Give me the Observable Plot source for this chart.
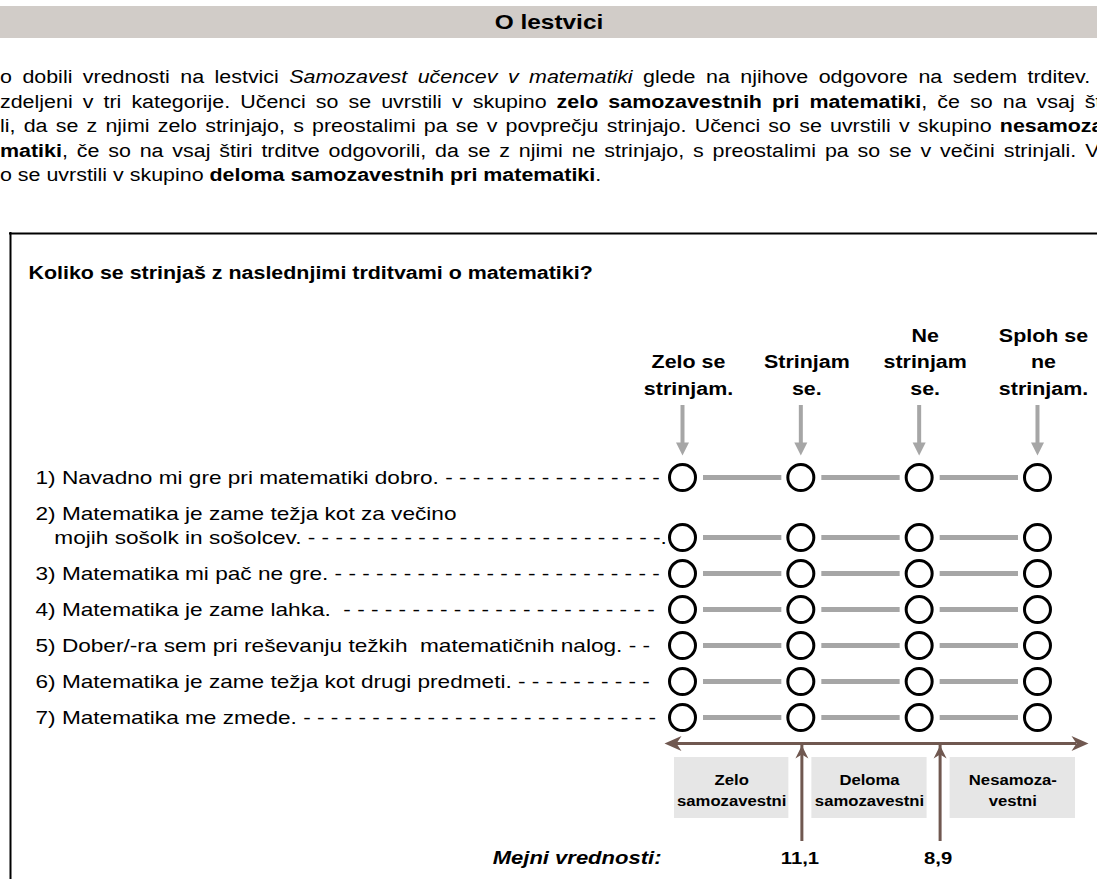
<!DOCTYPE html>
<html>
<head>
<meta charset="utf-8">
<script src="https://cdn.jsdelivr.net/npm/d3@7"></script>
<script src="https://cdn.jsdelivr.net/npm/@observablehq/plot@0.6"></script>
<style>
html, body { margin: 0; padding: 0; background: #fff; overflow: hidden; width: 1097px; height: 879px; }
body { position: relative; font-family: "Liberation Sans", Arial, sans-serif; color: #000; }
#band { position: absolute; left: 0; top: 6px; width: 1097px; height: 32px; background: #d1ccc8; }
#band span { position: absolute; left: 50%; top: 50%; transform: translate(-50%, -50%) scaleX(1.19); font-weight: bold; font-size: 20.5px; white-space: nowrap; }
#para { position: absolute; left: 0; top: 0; width: 1097px; height: 200px; overflow: hidden; }
.line { position: absolute; left: 0; width: max-content; white-space: nowrap; font-size: 18px; line-height: 24px; height: 24px; transform-origin: 0 50%; transform: scaleX(1.19); }
#chart { position: absolute; left: 0; top: 200px; width: 1097px; height: 679px; overflow: hidden; }
</style>
</head>
<body>
<div id="band"><span>O lestvici</span></div>
<div id="para">
  <div class="line" data-end="1090" style="top:65px">o dobili vrednosti na lestvici <i>Samozavest učencev v matematiki</i> glede na njihove odgovore na sedem trditev.</div>
  <div class="line" data-end="1101" style="top:89.5px">zdeljeni v tri kategorije. Učenci so se uvrstili v skupino <b>zelo samozavestnih pri matematiki</b>, če so na vsaj št</div>
  <div class="line" data-end="1103" style="top:114px">li, da se z njimi zelo strinjajo, s preostalimi pa se v povprečju strinjajo. Učenci so se uvrstili v skupino <b>nesamoza</b></div>
  <div class="line" data-end="1099" style="top:138.5px"><b>matiki</b>, če so na vsaj štiri trditve odgovorili, da se z njimi ne strinjajo, s preostalimi pa so se v večini strinjali. V</div>
  <div class="line" style="top:163px">o se uvrstili v skupino <b>deloma samozavestnih pri matematiki</b>.</div>
</div>
<div id="chart"></div>
<script>
// ---------- data ----------
const question = "Koliko se strinjaš z naslednjimi trditvami o matematiki?";
const responses = ["Zelo se\nstrinjam.", "Strinjam\nse.", "Ne\nstrinjam\nse.", "Sploh se\nne\nstrinjam."];
const statements = [
  "1) Navadno mi gre pri matematiki dobro. - - - - - - - - - - - - - - - -",
  "2) Matematika je zame težja kot za večino\n\u00a0\u00a0\u00a0mojih sošolk in sošolcev. - - - - - - - - - - - - - - - - - - - - - - - - - -.",
  "3) Matematika mi pač ne gre. - - - - - - - - - - - - - - - - - - - - - - - -",
  "4) Matematika je zame lahka.\u00a0 - - - - - - - - - - - - - - - - - - - - - - -",
  "5) Dober/-ra sem pri reševanju težkih\u00a0 matematičnih nalog. - -",
  "6) Matematika je zame težja kot drugi predmeti. - - - - - - - - - -",
  "7) Matematika me zmede. - - - - - - - - - - - - - - - - - - - - - - - - - -"
];
const categories = ["Zelo\nsamozavestni", "Deloma\nsamozavestni", "Nesamoza-\nvestni"];
const cutValues = [11.1, 8.9];
const cutCaption = "Mejni vrednosti:";

// ---------- styles / layout ----------
const W = 1097, H = 679;
const SX = 1.19;                 // horizontal text stretch of the original
const GRAY = "#a6a6a6", BROWN = "#705850", BOX = "#e6e6e6";
const COL = 118.33, X0 = 682;    // px per answer column, px of first column
const ROWPX = 36, Y0 = 277;      // px per row unit, px of first statement
const ux = px => (px - X0) / COL;
const uy = py => (py - Y0) / ROWPX;
const EXTRA = 0.67;              // extra row units per additional label line

// row positions: one unit per statement plus extra for additional label lines
let acc = 0;
const rowY = statements.map((s, i) => { acc += (s.split("\n").length - 1) * EXTRA; return i + acc; });

// score continuum below the answer columns
const scoreToCol = d3.scaleLinear().domain([13.0, 7.35]).range([0, responses.length - 1]);
const LEFT = ux(664), RIGHT = ux(1088);
const bounds = [LEFT, ...cutValues.map(v => scoreToCol(v)), RIGHT];
const segs = categories.map((c, k) => ({label: c, x1: bounds[k], x2: bounds[k + 1]}));
const cells = statements.flatMap((s, i) => responses.map((r, j) => ({i, j})));
const links = statements.flatMap((s, i) => d3.range(responses.length - 1).map(j => ({i, j})));
const fmt = v => String(v).replace(".", ",");

// symbols (tip at the dot position)
const unit = size => Math.sqrt(size / Math.PI) / 10;
const triDown = {draw(c, size) { const s = unit(size); c.moveTo(-6.5*s, -13*s); c.lineTo(6.5*s, -13*s); c.lineTo(0, 0); c.closePath(); }};
const headLeft = {draw(c, size) { const s = unit(size); c.moveTo(0, 0); c.lineTo(17*s, -7.5*s); c.lineTo(12*s, 0); c.lineTo(17*s, 7.5*s); c.closePath(); }};
const headRight = {draw(c, size) { const s = unit(size); c.moveTo(0, 0); c.lineTo(-17*s, -7.5*s); c.lineTo(-12*s, 0); c.lineTo(-17*s, 7.5*s); c.closePath(); }};
const headUp = {draw(c, size) { const s = unit(size); c.moveTo(0, 0); c.lineTo(-6.5*s, 13*s); c.lineTo(0, 9*s); c.lineTo(6.5*s, 13*s); c.closePath(); }};

const yScaleLine = uy(543), yCutBottom = uy(633), yCutTip = uy(545);

const plot = Plot.plot({
  width: W, height: H,
  marginTop: 0, marginRight: 0, marginBottom: 0, marginLeft: 0,
  x: {domain: [ux(0), ux(W)], range: [0, W], axis: null},
  y: {domain: [uy(0), uy(H)], range: [0, H], axis: null},
  style: {fontFamily: '"Liberation Sans", Arial, sans-serif', background: "white", color: "black", overflow: "hidden"},
  marks: [
    // frame
    Plot.ruleY([uy(33)], {y: d => d, x1: ux(9), x2: ux(W), stroke: "black", strokeWidth: 2}),
    Plot.ruleX([ux(10)], {x: d => d, y1: uy(32), y2: uy(H), stroke: "black", strokeWidth: 2}),
    // question
    Plot.text([question], {x: ux(28), y: uy(73), text: d => d, textAnchor: "start", fontSize: 18, fontWeight: "bold"}),
    // answer headers with arrows
    Plot.text(responses, {x: (d, i) => i, y: uy(194), dx: 6, text: d => d, lineAnchor: "bottom", lineHeight: 1.47, fontSize: 18, fontWeight: "bold"}),
    Plot.ruleX(responses, {x: (d, i) => i, y1: uy(205), y2: uy(245), stroke: GRAY, strokeWidth: 4}),
    Plot.dot(responses, {x: (d, i) => i, y: uy(255), symbol: triDown, r: 10, fill: GRAY, stroke: "none"}),
    // connectors and circles
    Plot.ruleY(links, {y: d => rowY[d.i], x1: d => d.j, x2: d => d.j + 1, insetLeft: 21, insetRight: 19, stroke: GRAY, strokeWidth: 5}),
    Plot.dot(cells, {x: d => d.j, y: d => rowY[d.i], r: 13, stroke: "black", strokeWidth: 3, fill: "white"}),
    // statements
    Plot.text(statements, {x: ux(35), y: (d, i) => rowY[i], text: d => d, textAnchor: "start", lineAnchor: "bottom", dy: 6, lineHeight: 24 / 19, fontSize: 19}),
    // category boxes
    Plot.rect(segs, {x1: "x1", x2: "x2", y1: uy(557), y2: uy(618), fill: BOX, insetLeft: 10, insetRight: 13}),
    Plot.text(segs, {x: d => (d.x1 + d.x2) / 2, y: uy(588), text: "label", dx: -1.5, lineHeight: 1.5, fontSize: 14, fontWeight: "bold"}),
    // cut arrows
    Plot.ruleX(cutValues, {x: d => scoreToCol(d), y1: yCutBottom, y2: yCutTip, insetTop: 8, stroke: BROWN, strokeWidth: 3}),
    Plot.dot(cutValues, {x: d => scoreToCol(d), y: yCutTip, symbol: headUp, r: 10, fill: BROWN, stroke: "none"}),
    // scale double arrow
    Plot.ruleY([yScaleLine], {y: d => d, x1: LEFT, x2: RIGHT, insetLeft: 12, insetRight: 12, stroke: BROWN, strokeWidth: 3}),
    Plot.dot([LEFT], {x: d => d, y: yScaleLine, symbol: headLeft, r: 10, fill: BROWN, stroke: "none"}),
    Plot.dot([RIGHT], {x: d => d, y: yScaleLine, symbol: headRight, r: 10, fill: BROWN, stroke: "none"}),
    // cut values
    Plot.text([cutCaption], {x: LEFT, y: uy(658), dx: -3, text: d => d, textAnchor: "end", fontStyle: "italic", fontWeight: "bold", fontSize: 18.5}),
    Plot.text(cutValues, {x: d => scoreToCol(d), y: uy(658), dx: -2, text: d => fmt(d), fontWeight: "bold", fontSize: 17})
  ]
});
document.getElementById("chart").append(plot);

// stretch text horizontally like the original
plot.querySelectorAll("text").forEach(t => {
  const spans = t.querySelectorAll("tspan");
  const els = spans.length ? Array.from(spans) : [t];
  els.forEach(e => {
    const len = e.getComputedTextLength();
    if (len > 0) {
      e.setAttribute("textLength", len * SX);
      e.setAttribute("lengthAdjust", "spacingAndGlyphs");
    }
  });
});

// justify the clipped paragraph lines
document.querySelectorAll(".line").forEach(el => {
  const target = +el.dataset.end;
  if (!target) return;
  const natural = el.offsetWidth;
  const spaces = (el.textContent.match(/ /g) || []).length;
  if (spaces) el.style.wordSpacing = ((target / SX - natural) / spaces) + "px";
});
</script>
</body>
</html>
